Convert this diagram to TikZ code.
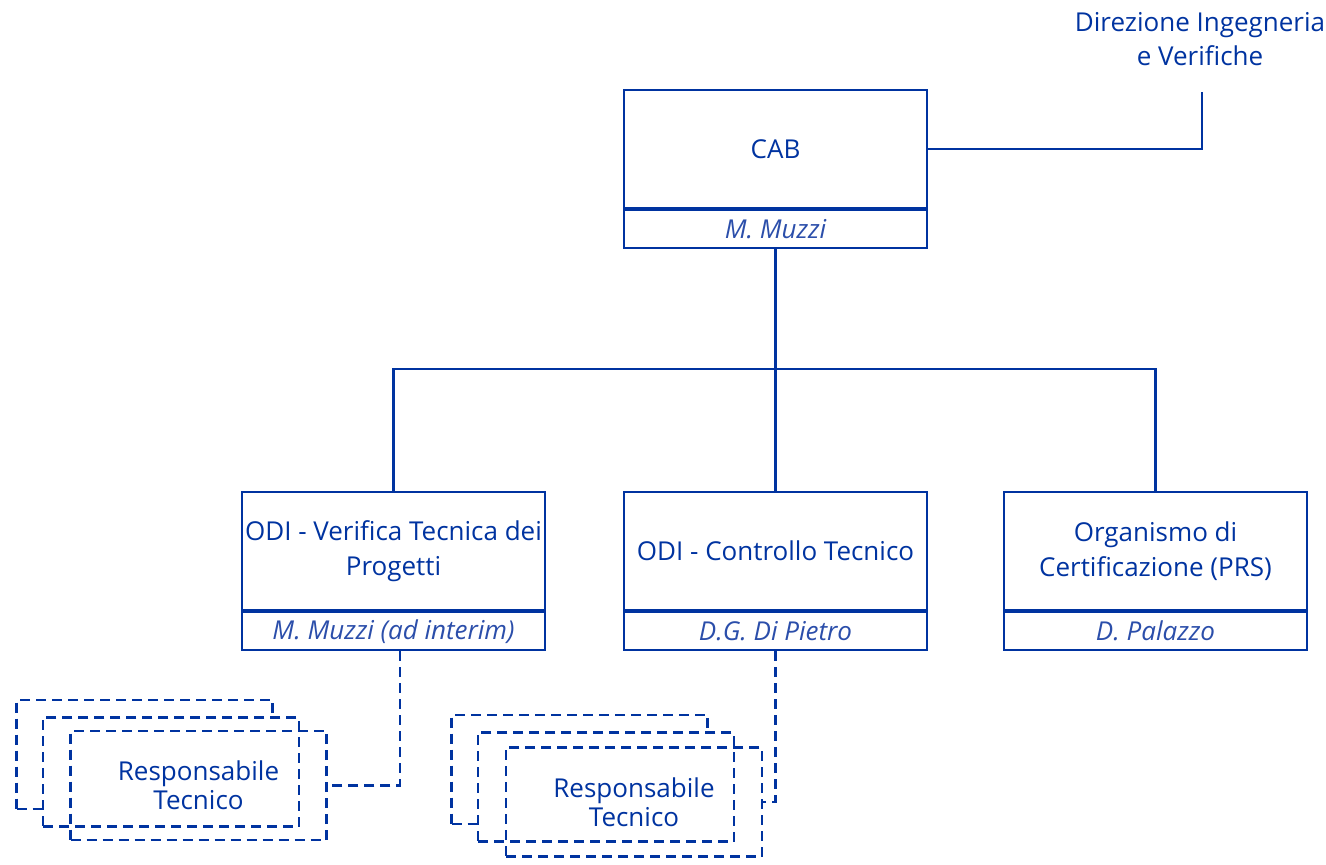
\documentclass[tikz,border=0pt]{standalone}
\usepackage{fontspec}
\setmainfont{Open Sans}
\usepackage{tikz}
\usetikzlibrary{positioning,calc}
\definecolor{odiblue}{HTML}{0033A0}
\definecolor{odiname}{HTML}{2B4EAA}

\begin{document}
\begin{tikzpicture}[x=0.75pt, y=-0.75pt, font=\fontsize{19.5}{26}\selectfont, color=odiblue,
  unit/.style={draw=odiblue, line width=1.7pt, align=center, inner sep=0pt, minimum width=227pt, minimum height=88.5pt},
  holder/.style={draw=odiblue, line width=1.7pt, inner sep=0pt, minimum width=227pt, minimum height=28.5pt, font=\fontsize{19.5}{26}\selectfont\itshape, text=odiname},
  rbox/.style={draw=odiblue, line width=1.9pt, dash pattern=on 7.5pt off 4.5pt, align=center, minimum width=192pt, minimum height=82pt, font=\fontsize{19.5}{22}\selectfont},
  link/.style={line width=1.7pt},
  dlink/.style={line width=1.9pt, dash pattern=on 7.5pt off 4.5pt}]
\useasboundingbox (0,0) rectangle (1326,864);
% top
\node[unit] (cab) at (775.5,149) {CAB};
\node[holder, below=0pt of cab] (cabname) {M. Muzzi};
\node[align=center, font=\fontsize{19.5}{25}\selectfont] (dir) at (1200,39) {Direzione Ingegneria\\e Verifiche};
\coordinate (dirfoot) at (1202,92);
\draw[link] (cab.east) -| (dirfoot);
% units
\node[unit] (odiv) at (393.5,551) {ODI - Verifica Tecnica dei\\Progetti};
\node[holder, below=0pt of odiv] (odivname) {M. Muzzi (ad interim)};
\node[unit] (odic) at (775.5,551) {ODI - Controllo Tecnico};
\node[holder, below=0pt of odic] (odicname) {D.G. Di Pietro};
\node[unit] (prs) at (1155.5,551) {Organismo di\\Certificazione (PRS)};
\node[holder, below=0pt of prs] (prsname) {D. Palazzo};
\coordinate (bus) at (775.5,369);
\draw[link] (cabname.south) -- (bus);
\draw[link] (odiv.north) |- (bus) -| (prs.north);
\draw[link] (bus) -- (odic.north);
% responsabili
\node[rbox, fill=white] (rtv2) at (144.5,754.5) {};
\node[rbox, fill=white] (rtv1) at (171,772) {};
\node[rbox] (rtv) at (198.5,785.5) {Responsabile\\Tecnico};
\node[rbox, fill=white] (rtc2) at (579.5,769.5) {};
\node[rbox, fill=white] (rtc1) at (606,787) {};
\node[rbox] (rtc) at (634,802) {Responsabile\\Tecnico};
\draw[dlink] ([xshift=5pt]odivname.south) |- (rtv.east);
\draw[dlink] (odicname.south) |- (rtc.east);
\end{tikzpicture}
\end{document}
